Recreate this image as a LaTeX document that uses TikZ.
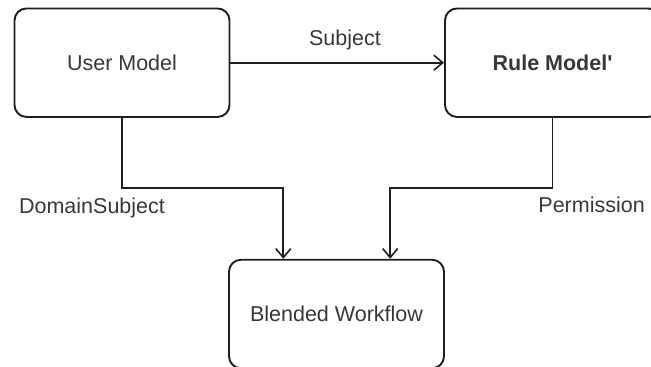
\documentclass[tikz,border=0pt]{standalone}
\usepackage{fontspec}
\setmainfont{Liberation Sans}
\usetikzlibrary{arrows.meta}
\definecolor{linecol}{HTML}{1E1E1E}
\definecolor{txtcol}{HTML}{383838}
\tikzset{
  modelbox/.style={draw=linecol, line width=1.9pt, rounded corners=12pt,
    minimum width=215pt, minimum height=108.5pt, inner sep=0pt,
    text=txtcol, font=\fontsize{21.5}{26}\selectfont},
  flow/.style={draw=linecol, line width=1.9pt,
    -{Straight Barb[length=9pt, width=15pt, line width=1.6pt]}},
  flowlabel/.style={text=txtcol, font=\fontsize{21.5}{26}\selectfont,
    inner sep=0pt, anchor=base}
}
\begin{document}
\begin{tikzpicture}[x=1pt, y=-1pt]
  \clip (0,0) rectangle (651,367);
  \fill[white] (0,0) rectangle (651,367);

  % the three models
  \node[modelbox] (um) at (122,62.7) {User Model};
  \node[modelbox, font=\fontsize{21.5}{26}\selectfont\bfseries] (rm) at (552.5,62.7) {Rule Model\textquotesingle};
  \node[modelbox] (bw) at (336.5,314) {Blended Workflow};

  % bends of the two lower connectors
  \coordinate (j1) at (283.3,188.3);
  \coordinate (j2) at (390.2,188.3);

  % connectors
  \draw[flow] (um.east) -- (rm.west);
  \draw[flow] (um.south) |- (j1) -- (j1 |- bw.north);
  \draw[flow] (rm.south) |- (j2) -- (j2 |- bw.north);

  % connector labels
  \node[flowlabel] (lsubj) at (345,45) {Subject};
  \node[flowlabel] (ldom) at (92,213) {DomainSubject};
  \node[flowlabel] (lperm) at (591.6,212.7) {Permission};
\end{tikzpicture}
\end{document}
